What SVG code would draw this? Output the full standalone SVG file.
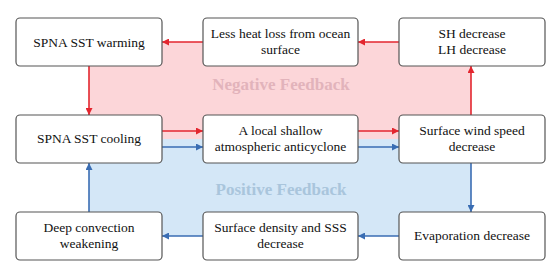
<svg xmlns="http://www.w3.org/2000/svg" width="554" height="274" viewBox="0 0 554 274">
<defs>
<style>
.box{fill:#fff;stroke:#555;stroke-width:1.2}
.t{font-family:"Liberation Serif","Times New Roman",serif;font-size:13.5px;fill:#111;text-anchor:middle}
.r{stroke:#e3262f;stroke-width:1.6;fill:none}
.b{stroke:#3a6db3;stroke-width:1.6;fill:none}
.lbl{font-family:"Liberation Serif","Times New Roman",serif;font-size:17px;font-weight:bold;text-anchor:middle}
</style>
<marker id="ar" viewBox="0 0 10 10" refX="10" refY="5" markerWidth="9" markerHeight="7" markerUnits="userSpaceOnUse" orient="auto"><path d="M0,0L10,5L0,10z" fill="#e3262f"/></marker>
<marker id="ab" viewBox="0 0 10 10" refX="10" refY="5" markerWidth="9" markerHeight="7" markerUnits="userSpaceOnUse" orient="auto"><path d="M0,0L10,5L0,10z" fill="#3a6db3"/></marker>
</defs>
<rect width="554" height="274" fill="#fff"/>
<g id="regions">
<rect x="89" y="42" width="382" height="97" fill="#fcd6d9"/>
<rect x="89" y="139" width="382" height="97" fill="#d4e7f7"/>
<text class="lbl" x="281" y="90" fill="#e2b3bb">Negative Feedback</text>
<text class="lbl" x="281" y="195" fill="#a9c5dc">Positive Feedback</text>
</g>
<g id="connectors">
<path class="r" d="M203,42H162" marker-end="url(#ar)"/>
<path class="r" d="M399,42H358" marker-end="url(#ar)"/>
<path class="r" d="M89,66V115" marker-end="url(#ar)"/>
<path class="r" d="M471,115V66" marker-end="url(#ar)"/>
<path class="r" d="M162,131H203" marker-end="url(#ar)"/>
<path class="r" d="M358,131H399" marker-end="url(#ar)"/>
<path class="b" d="M162,147H203" marker-end="url(#ab)"/>
<path class="b" d="M358,147H399" marker-end="url(#ab)"/>
<path class="b" d="M471,163V212" marker-end="url(#ab)"/>
<path class="b" d="M399,236H358" marker-end="url(#ab)"/>
<path class="b" d="M203,236H162" marker-end="url(#ab)"/>
<path class="b" d="M89,212V163" marker-end="url(#ab)"/>
</g>
<g id="n1"><rect class="box" x="16" y="18" width="146" height="48" rx="4"/><text class="t" x="89" y="47">SPNA SST warming</text></g>
<g id="n2"><rect class="box" x="203" y="18" width="155" height="48" rx="4"/><text class="t" x="280.5" y="38">Less heat loss from ocean</text><text class="t" x="280.5" y="54">surface</text></g>
<g id="n3"><rect class="box" x="399" y="18" width="146" height="48" rx="4"/><text class="t" x="472" y="38">SH decrease</text><text class="t" x="472" y="54">LH decrease</text></g>
<g id="n4"><rect class="box" x="16" y="115" width="146" height="48" rx="4"/><text class="t" x="89" y="143">SPNA SST cooling</text></g>
<g id="n5"><rect class="box" x="203" y="115" width="155" height="48" rx="4"/><text class="t" x="280.5" y="135">A local shallow</text><text class="t" x="280.5" y="151">atmospheric anticyclone</text></g>
<g id="n6"><rect class="box" x="399" y="115" width="146" height="48" rx="4"/><text class="t" x="472" y="135">Surface wind speed</text><text class="t" x="472" y="151">decrease</text></g>
<g id="n7"><rect class="box" x="16" y="212" width="146" height="48" rx="4"/><text class="t" x="89" y="232">Deep convection</text><text class="t" x="89" y="248">weakening</text></g>
<g id="n8"><rect class="box" x="203" y="212" width="155" height="48" rx="4"/><text class="t" x="280.5" y="232">Surface density and SSS</text><text class="t" x="280.5" y="248">decrease</text></g>
<g id="n9"><rect class="box" x="399" y="212" width="146" height="48" rx="4"/><text class="t" x="472" y="240">Evaporation decrease</text></g>
</svg>
